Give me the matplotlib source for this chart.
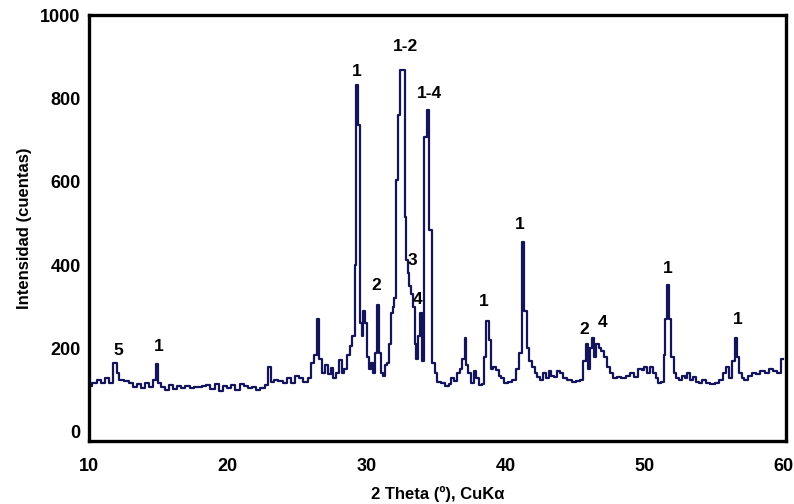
import matplotlib as mp
mp.use('Agg')
import matplotlib.pyplot as plt

# diffractogram (2 theta in degrees, counts)
two_theta = [10.0, 10.4, 10.7, 11.0, 11.3, 11.6, 11.9, 12.1, 12.3, 12.7, 13.0, 13.3, 13.6, 13.9,
             14.2, 14.5, 14.7, 14.9, 15.1, 15.3, 15.6, 15.9, 16.2, 16.5, 16.8, 17.1, 17.4, 17.7,
             18.0, 18.3, 18.6, 18.9, 19.2, 19.5, 19.8, 20.1, 20.4, 20.7, 21.0, 21.3, 21.6, 21.9,
             22.2, 22.5, 22.8, 23.0, 23.2, 23.5, 23.8, 24.1, 24.4, 24.7, 25.0, 25.3, 25.6, 25.9,
             26.1, 26.3, 26.5, 26.7, 26.9, 27.1, 27.3, 27.5, 27.7, 27.9, 28.1, 28.3, 28.5, 28.7,
             28.9, 29.05, 29.2, 29.32, 29.45, 29.6, 29.7, 29.82, 29.96, 30.1, 30.25, 30.4, 30.55,
             30.7, 30.82, 30.95, 31.1, 31.25, 31.4, 31.55, 31.7, 31.82, 31.95, 32.05, 32.2, 32.35,
             32.5, 32.65, 32.8, 32.9, 33.0, 33.12, 33.25, 33.4, 33.52, 33.65, 33.8, 33.95, 34.08,
             34.2, 34.42, 34.6, 34.8, 35.0, 35.2, 35.5, 35.8, 36.0, 36.2, 36.4, 36.6, 36.8, 37.0,
             37.1, 37.25, 37.4, 37.6, 37.8, 38.0, 38.2, 38.4, 38.55, 38.7, 38.85, 39.0, 39.2, 39.4,
             39.6, 39.8, 40.0, 40.3, 40.6, 40.9, 41.1, 41.25, 41.45, 41.6, 41.8, 42.0, 42.2, 42.4,
             42.6, 42.8, 43.0, 43.2, 43.4, 43.6, 43.8, 44.0, 44.3, 44.6, 44.9, 45.2, 45.5, 45.7,
             45.85, 46.0, 46.15, 46.3, 46.45, 46.6, 46.8, 47.0, 47.2, 47.4, 47.6, 47.9, 48.2, 48.5,
             48.8, 49.1, 49.4, 49.7, 49.9, 50.1, 50.3, 50.5, 50.7, 50.9, 51.1, 51.3, 51.45, 51.55,
             51.7, 51.85, 52.0, 52.2, 52.4, 52.6, 52.8, 53.0, 53.2, 53.4, 53.6, 53.8, 54.0, 54.3,
             54.6, 54.9, 55.2, 55.5, 55.8, 56.0, 56.2, 56.4, 56.6, 56.75, 56.9, 57.1, 57.3, 57.6,
             57.9, 58.2, 58.5, 58.8, 59.1, 59.4, 59.7, 59.9, 60.0]
counts = [110, 118, 125, 118, 130, 118, 165, 140, 125, 122, 118, 108, 115, 105,
          118, 108, 125, 162, 118, 108, 100, 112, 102, 110, 104, 110, 105, 108,
          108, 110, 112, 102, 115, 98, 110, 104, 112, 100, 115, 110, 104, 108,
          100, 105, 112, 155, 120, 125, 122, 118, 128, 118, 135, 128, 120, 130,
          165, 185, 270, 175, 140, 160, 138, 152, 130, 140, 172, 140, 150, 185,
          205, 230, 400, 832, 736, 260, 230, 290, 260, 180, 150, 165, 140,
          190, 305, 190, 140, 135, 160, 165, 210, 285, 300, 320, 604, 760,
          868, 868, 515, 412, 380, 350, 330, 300, 210, 175, 230, 285, 170,
          707, 772, 485, 165, 140, 120, 118, 110, 115, 128, 122, 140, 150, 175,
          225, 160, 140, 118, 145, 130, 112, 115, 180, 265, 220, 150, 155, 148,
          135, 130, 118, 120, 125, 150, 190, 455, 290, 200, 170, 155, 140, 132,
          125, 140, 128, 145, 135, 132, 145, 140, 130, 125, 120, 122, 125, 170,
          210, 150, 200, 225, 180, 210, 200, 195, 180, 155, 140, 130, 132, 128,
          135, 140, 132, 150, 148, 155, 140, 155, 140, 128, 118, 120, 185, 270,
          352, 270, 180, 140, 130, 125, 135, 128, 140, 125, 132, 120, 118, 125,
          118, 115, 118, 125, 140, 155, 130, 170, 225, 180, 140, 128, 125, 135,
          140, 138, 145, 142, 150, 145, 140, 175, 175]

# phase labels over the peaks (text, 2 theta, counts)
peak_labels = [('5', 12.1, 195), ('1', 15.0, 205), ('1', 29.3, 865), ('2', 30.7, 350),
               ('1-2', 32.8, 925), ('3', 33.3, 410), ('4', 33.7, 318), ('1-4', 34.55, 812),
               ('1', 38.4, 312), ('1', 41.05, 498), ('2', 45.7, 245), ('4', 47.0, 262),
               ('1', 51.7, 392), ('1', 56.7, 270)]

plt.rcParams['font.family'] = ['Liberation Sans', 'DejaVu Sans']

fig = plt.figure(figsize=(7.94, 5.04), dpi=100)
ax = fig.add_axes([0.112, 0.125, 0.878, 0.845])

ax.plot(two_theta, counts, drawstyle='steps-mid', color='#14145e', lw=1.6)

for txt, xx, yy in peak_labels:
    ax.text(xx, yy, txt, ha='center', va='center', fontsize=12.5, fontweight='bold')

ax.set_xlim(10, 60.2)
ax.set_ylim(-22, 1000)
ax.set_xticks([10, 20, 30, 40, 50, 60])
ax.set_yticks([0, 200, 400, 600, 800, 1000])
ax.tick_params(length=0, labelsize=13)
ax.tick_params(axis='x', pad=12)
ax.tick_params(axis='y', pad=6)
for lab in ax.get_xticklabels() + ax.get_yticklabels():
    lab.set_fontweight('bold')
for sp in ax.spines.values():
    sp.set_linewidth(2.4)

ax.set_xlabel('2 Theta (º), CuK\u03b1', fontsize=12, fontweight='bold', labelpad=8)
ax.set_ylabel('Intensidad (cuentas)', fontsize=12, fontweight='bold', labelpad=6)

fig.savefig('out.png', dpi=100)
